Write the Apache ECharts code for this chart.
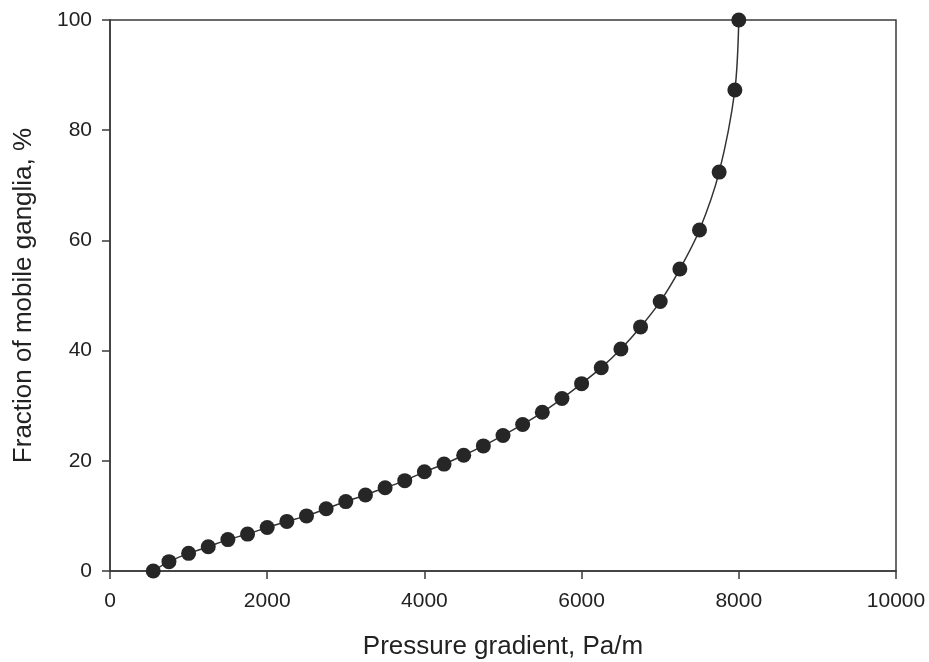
<!DOCTYPE html>
<html>
<head>
<meta charset="utf-8">
<script src="https://cdn.jsdelivr.net/npm/echarts@6/dist/echarts.min.js"></script>
<style>
  html, body { margin: 0; padding: 0; background: #fff; }
  #chart { width: 929px; height: 662px; }
</style>
</head>
<body>
<div id="chart"></div>
<script>
// pressure gradient (Pa/m) and fraction of mobile ganglia (%)
const gradient = [550, 750, 1000, 1250, 1500, 1750, 2000, 2250, 2500, 2750, 3000, 3250, 3500,
  3750, 4000, 4250, 4500, 4750, 5000, 5250, 5500, 5750, 6000, 6250, 6500, 6750, 7000,
  7250, 7500, 7750, 7950, 8000];
const fraction = [0, 1.7, 3.2, 4.4, 5.7, 6.7, 7.9, 9.0, 10.0, 11.3, 12.6, 13.8, 15.1,
  16.4, 18.0, 19.4, 21.0, 22.7, 24.6, 26.6, 28.8, 31.3, 34.0, 36.9, 40.3, 44.3, 48.9,
  54.8, 61.9, 72.4, 87.3, 100];

const axisTextColor = '#222';
const lineColor = '#3a3a3a';

const chart = echarts.init(document.getElementById('chart'), null, { renderer: 'canvas' });
chart.setOption({
  backgroundColor: '#fff',
  animation: false,
  grid: {
    left: 110, right: 33, top: 20, bottom: 91,
    outerBoundsMode: 'none',
    show: true, borderColor: lineColor, borderWidth: 1.5
  },
  xAxis: {
    type: 'value', min: 0, max: 10000, interval: 2000,
    name: 'Pressure gradient, Pa/m',
    nameLocation: 'middle', nameGap: 63,
    nameTextStyle: { fontFamily: 'Liberation Sans', fontSize: 26, color: axisTextColor },
    axisLine: { show: true, lineStyle: { color: lineColor, width: 1.5 } },
    axisTick: { show: true, inside: false, length: 8, lineStyle: { color: lineColor, width: 1.5 } },
    axisLabel: {
      fontFamily: 'Liberation Sans', fontSize: 21, color: axisTextColor, margin: 20,
      formatter: v => String(v)
    },
    splitLine: { show: false }
  },
  yAxis: {
    type: 'value', min: 0, max: 100, interval: 20,
    name: 'Fraction of mobile ganglia, %',
    nameLocation: 'middle', nameGap: 73, nameRotate: 90,
    nameTextStyle: { fontFamily: 'Liberation Sans', fontSize: 26, color: axisTextColor },
    axisLine: { show: true, lineStyle: { color: lineColor, width: 1.5 } },
    axisTick: { show: true, inside: false, length: 8, lineStyle: { color: lineColor, width: 1.5 } },
    axisLabel: { fontFamily: 'Liberation Sans', fontSize: 21, color: axisTextColor, margin: 18 },
    splitLine: { show: false }
  },
  series: [{
    type: 'line',
    data: gradient.map((g, i) => [g, fraction[i]]),
    smooth: 0.3,
    symbol: 'circle',
    symbolSize: 15,
    itemStyle: { color: '#262626' },
    lineStyle: { color: '#333', width: 1.5 },
    clip: false
  }]
});
</script>
</body>
</html>
